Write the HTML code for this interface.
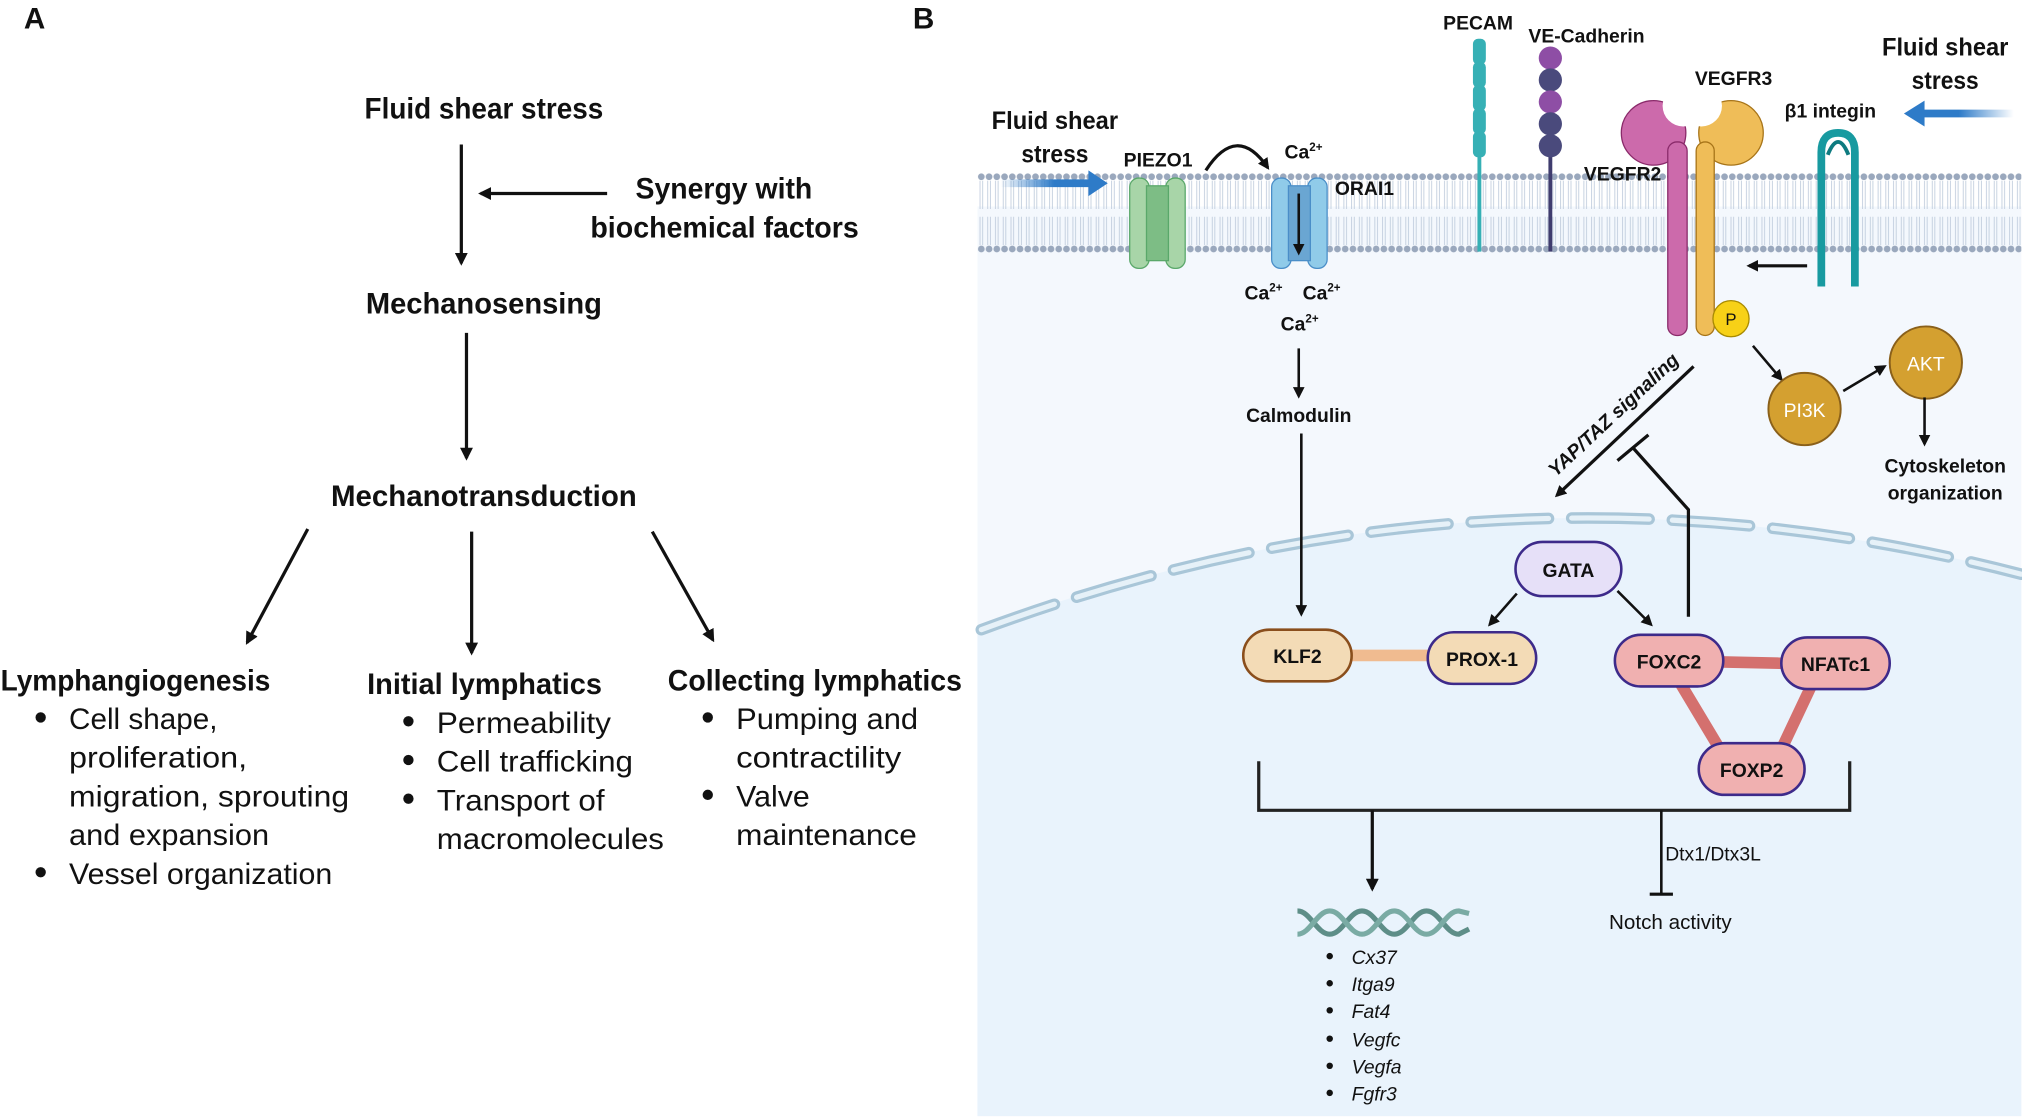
<!DOCTYPE html>
<html><head><meta charset="utf-8"><style>
html,body{margin:0;padding:0;background:#fff;}
svg{display:block;}
text{font-family:"Liberation Sans",sans-serif;fill:#111;}
.h{font-weight:bold;font-size:23px;}
.b{font-size:23px;}
.s{font-weight:bold;font-size:15px;}
.L{font-weight:bold;font-size:19px;}
.g{font-style:italic;font-size:15px;}
</style></head><body>
<svg width="2022" height="1120" viewBox="0 0 1566 868" xmlns="http://www.w3.org/2000/svg">
<defs>
<marker id="ah" markerWidth="10" markerHeight="10" refX="8" refY="5" orient="auto" markerUnits="userSpaceOnUse" viewBox="0 0 10 10"><path d="M0,0 L10,5 L0,10 z" fill="#111"/></marker>
<marker id="ahs" markerWidth="9" markerHeight="9" refX="7" refY="4.5" orient="auto" markerUnits="userSpaceOnUse" viewBox="0 0 9 9"><path d="M0,0 L9,4.5 L0,9 z" fill="#111"/></marker>
<linearGradient id="bl" x1="0" x2="1"><stop offset="0" stop-color="#2e7bc8" stop-opacity="0"/><stop offset="0.5" stop-color="#2e7bc8"/></linearGradient>
<linearGradient id="br" x1="1" x2="0"><stop offset="0" stop-color="#2e7bc8" stop-opacity="0"/><stop offset="0.5" stop-color="#2e7bc8"/></linearGradient>
<pattern id="mem" x="757" y="0" width="6" height="868" patternUnits="userSpaceOnUse">
<circle cx="3" cy="137" r="2.6" fill="#9aa8bd"/><circle cx="3" cy="193" r="2.6" fill="#9aa8bd"/>
<path d="M2,140 L2,162 M4,140 L4,162 M2,168 L2,190 M4,168 L4,190" stroke="#b8c6d8" stroke-width="0.6"/>
</pattern>
</defs>

<!-- Panel A -->
<text x="18" y="22" class="h">A</text>
<text x="282" y="92" class="h" textLength="185" lengthAdjust="spacingAndGlyphs">Fluid shear stress</text>
<line x1="357" y1="112" x2="357" y2="204" stroke="#111" stroke-width="2.5" marker-end="url(#ah)"/>
<line x1="470" y1="150" x2="372" y2="150" stroke="#111" stroke-width="2.5" marker-end="url(#ah)"/>
<text x="492" y="154" class="h" textLength="137" lengthAdjust="spacingAndGlyphs">Synergy with</text>
<text x="457" y="184" class="h" textLength="208" lengthAdjust="spacingAndGlyphs">biochemical factors</text>
<text x="283" y="243" class="h" textLength="183" lengthAdjust="spacingAndGlyphs">Mechanosensing</text>
<line x1="361" y1="258" x2="361" y2="355" stroke="#111" stroke-width="2.5" marker-end="url(#ah)"/>
<text x="256" y="392" class="h" textLength="237" lengthAdjust="spacingAndGlyphs">Mechanotransduction</text>
<line x1="238" y1="410" x2="191" y2="498" stroke="#111" stroke-width="2.5" marker-end="url(#ah)"/>
<line x1="365" y1="412" x2="365" y2="506" stroke="#111" stroke-width="2.5" marker-end="url(#ah)"/>
<line x1="505" y1="412" x2="552" y2="496" stroke="#111" stroke-width="2.5" marker-end="url(#ah)"/>

<text x="0" y="535" class="h" textLength="209" lengthAdjust="spacingAndGlyphs">Lymphangiogenesis</text>
<text x="284" y="538" class="h" textLength="182" lengthAdjust="spacingAndGlyphs">Initial lymphatics</text>
<text x="517" y="535" class="h" textLength="228" lengthAdjust="spacingAndGlyphs">Collecting lymphatics</text>

<g fill="#111"><circle cx="31" cy="556" r="4"/><circle cx="31" cy="676" r="4"/><circle cx="316" cy="559" r="4"/><circle cx="316" cy="589" r="4"/><circle cx="316" cy="619" r="4"/><circle cx="548" cy="556" r="4"/><circle cx="548" cy="616" r="4"/></g>
<text x="53" y="565" class="b" textLength="115" lengthAdjust="spacingAndGlyphs">Cell shape,</text>
<text x="53" y="595" class="b" textLength="138" lengthAdjust="spacingAndGlyphs">proliferation,</text>
<text x="53" y="625" class="b" textLength="217" lengthAdjust="spacingAndGlyphs">migration, sprouting</text>
<text x="53" y="655" class="b" textLength="155" lengthAdjust="spacingAndGlyphs">and expansion</text>
<text x="53" y="685" class="b" textLength="204" lengthAdjust="spacingAndGlyphs">Vessel organization</text>
<text x="338" y="568" class="b" textLength="135" lengthAdjust="spacingAndGlyphs">Permeability</text>
<text x="338" y="598" class="b" textLength="152" lengthAdjust="spacingAndGlyphs">Cell trafficking</text>
<text x="338" y="628" class="b" textLength="130" lengthAdjust="spacingAndGlyphs">Transport of</text>
<text x="338" y="658" class="b" textLength="176" lengthAdjust="spacingAndGlyphs">macromolecules</text>
<text x="570" y="565" class="b" textLength="141" lengthAdjust="spacingAndGlyphs">Pumping and</text>
<text x="570" y="595" class="b" textLength="128" lengthAdjust="spacingAndGlyphs">contractility</text>
<text x="570" y="625" class="b" textLength="57" lengthAdjust="spacingAndGlyphs">Valve</text>
<text x="570" y="655" class="b" textLength="140" lengthAdjust="spacingAndGlyphs">maintenance</text>

<!-- Panel B -->
<text x="707" y="22" class="h">B</text>
<rect x="757" y="160" width="809" height="705" fill="#f4f8fd"/>
<path d="M757,488 Q1160,340 1566,445 L1566,865 L757,865 z" fill="#e9f3fc"/>
<path d="M760,488 Q1160,340 1566,445" fill="none" stroke="#a9c6d8" stroke-width="9" stroke-dasharray="60,18" stroke-linecap="round"/>
<path d="M760,488 Q1160,340 1566,445" fill="none" stroke="#e6f1f8" stroke-width="4" stroke-dasharray="60,18" stroke-linecap="round"/>
<rect x="757" y="132" width="809" height="66" fill="url(#mem)"/>

<!-- left fluid shear -->
<text x="817" y="100" class="L" text-anchor="middle" textLength="98" lengthAdjust="spacingAndGlyphs">Fluid shear</text>
<text x="817" y="126" class="L" text-anchor="middle" textLength="52" lengthAdjust="spacingAndGlyphs">stress</text>
<path d="M775,139 L843,139 L843,132 L858,142 L843,152 L843,145 L775,145 z" fill="url(#bl)"/>
<text x="897" y="129" class="s" text-anchor="middle">PIEZO1</text>
<rect x="875" y="138" width="15" height="70" rx="7" fill="#a8d5a8" stroke="#5aa86a"/>
<rect x="903" y="138" width="15" height="70" rx="7" fill="#a8d5a8" stroke="#5aa86a"/>
<rect x="888" y="144" width="17" height="58" fill="#7dbd85" stroke="#5aa86a"/>
<path d="M934,132 Q958,95 982,130" fill="none" stroke="#111" stroke-width="2.5" marker-end="url(#ahs)"/>
<text x="995" y="123" class="s">Ca<tspan font-size="9" dy="-6">2+</tspan></text>
<rect x="985" y="138" width="15" height="70" rx="7" fill="#90cbe9" stroke="#4a8ec8"/>
<rect x="1013" y="138" width="15" height="70" rx="7" fill="#90cbe9" stroke="#4a8ec8"/>
<rect x="998" y="144" width="17" height="58" fill="#6aa6d2" stroke="#4a8ec8"/>
<line x1="1006" y1="150" x2="1006" y2="196" stroke="#111" stroke-width="2" marker-end="url(#ahs)"/>
<text x="1034" y="151" class="s">ORAI1</text>
<text x="964" y="232" class="s">Ca<tspan font-size="9" dy="-6">2+</tspan></text>
<text x="1009" y="232" class="s">Ca<tspan font-size="9" dy="-6">2+</tspan></text>
<text x="992" y="256" class="s">Ca<tspan font-size="9" dy="-6">2+</tspan></text>
<line x1="1006" y1="270" x2="1006" y2="307" stroke="#111" stroke-width="2" marker-end="url(#ahs)"/>
<text x="1006" y="327" class="s" text-anchor="middle">Calmodulin</text>
<line x1="1008" y1="336" x2="1008" y2="476" stroke="#111" stroke-width="2" marker-end="url(#ahs)"/>

<!-- PECAM -->
<text x="1145" y="23" class="s" text-anchor="middle">PECAM</text>
<line x1="1146" y1="120" x2="1146" y2="195" stroke="#36b0b5" stroke-width="3"/>
<g fill="#36b0b5"><rect x="1141" y="30" width="10" height="20" rx="4"/><rect x="1141" y="48" width="10" height="20" rx="4"/><rect x="1141" y="66" width="10" height="20" rx="4"/><rect x="1141" y="84" width="10" height="20" rx="4"/><rect x="1141" y="102" width="10" height="20" rx="4"/></g>
<text x="1229" y="33" class="s" text-anchor="middle">VE-Cadherin</text>
<line x1="1201" y1="115" x2="1201" y2="195" stroke="#3f3c6e" stroke-width="3"/>
<circle cx="1201" cy="45" r="9" fill="#8e4ea5"/><circle cx="1201" cy="62" r="9" fill="#4a4a7c"/><circle cx="1201" cy="79" r="9" fill="#8e4ea5"/><circle cx="1201" cy="96" r="9" fill="#4a4a7c"/><circle cx="1201" cy="113" r="9" fill="#4a4a7c"/>

<!-- VEGFR2 / VEGFR3 -->
<circle cx="1281" cy="103" r="25" fill="#cc6aab" stroke="#8a2a6a"/>
<circle cx="1304" cy="82" r="16" fill="#fff"/>
<rect x="1292" y="110" width="15" height="150" rx="7" fill="#cc6aab" stroke="#8a2a6a"/>
<circle cx="1341" cy="103" r="25" fill="#efbd58" stroke="#a77418"/>
<circle cx="1318" cy="82" r="16" fill="#fff"/>
<rect x="1314" y="110" width="14" height="150" rx="7" fill="#efbd58" stroke="#a77418"/>
<text x="1257" y="140" class="s" text-anchor="middle">VEGFR2</text>
<text x="1343" y="66" class="s" text-anchor="middle">VEGFR3</text>
<circle cx="1341" cy="247" r="14" fill="#f7d117" stroke="#a88a00"/>
<text x="1341" y="252" font-size="13" text-anchor="middle">P</text>

<!-- integin -->
<text x="1418" y="91" class="s" text-anchor="middle">β1 integin</text>
<path d="M1411,222 L1411,118 Q1411,103 1424,103 Q1437,103 1437,118 L1437,222" fill="none" stroke="#189aa0" stroke-width="6"/>
<path d="M1416,120 Q1424,100 1432,120" fill="none" stroke="#0e7b80" stroke-width="3"/>
<line x1="1400" y1="206" x2="1355" y2="206" stroke="#111" stroke-width="2.5" marker-end="url(#ahs)"/>
<text x="1507" y="43" class="L" text-anchor="middle" textLength="98" lengthAdjust="spacingAndGlyphs">Fluid shear</text>
<text x="1507" y="69" class="L" text-anchor="middle" textLength="52" lengthAdjust="spacingAndGlyphs">stress</text>
<path d="M1560,85 L1491,85 L1491,78 L1475,88 L1491,98 L1491,91 L1560,91 z" fill="url(#br)"/>

<!-- PI3K AKT -->
<line x1="1358" y1="268" x2="1380" y2="294" stroke="#111" stroke-width="2" marker-end="url(#ahs)"/>
<circle cx="1398" cy="317" r="28" fill="#d4a030" stroke="#8a601a" stroke-width="1.5"/>
<text x="1398" y="323" font-size="15" style="fill:#fff" text-anchor="middle">PI3K</text>
<line x1="1428" y1="303" x2="1460" y2="284" stroke="#111" stroke-width="2" marker-end="url(#ahs)"/>
<circle cx="1492" cy="281" r="28" fill="#d4a030" stroke="#8a601a" stroke-width="1.5"/>
<text x="1492" y="287" font-size="15" style="fill:#fff" text-anchor="middle">AKT</text>
<line x1="1491" y1="308" x2="1491" y2="344" stroke="#111" stroke-width="2" marker-end="url(#ahs)"/>
<text x="1507" y="366" class="s" text-anchor="middle">Cytoskeleton</text>
<text x="1507" y="387" class="s" text-anchor="middle">organization</text>

<!-- YAP/TAZ -->
<line x1="1312" y1="284" x2="1206" y2="384" stroke="#111" stroke-width="2.5" marker-end="url(#ahs)"/>
<text transform="translate(1256,328) rotate(-43)" class="s" font-style="italic" text-anchor="middle" dy="-4">YAP/TAZ signaling</text>
<path d="M1308,478 L1308,395 L1265,347" fill="none" stroke="#111" stroke-width="2.5"/>
<line x1="1253" y1="357" x2="1277" y2="337" stroke="#111" stroke-width="2.5"/>

<!-- TFs -->
<line x1="1046" y1="508" x2="1107" y2="508" stroke="#f0bb90" stroke-width="9"/>
<line x1="1334" y1="513" x2="1380" y2="514" stroke="#d4706e" stroke-width="9"/>
<line x1="1302" y1="530" x2="1335" y2="585" stroke="#d4706e" stroke-width="9"/>
<line x1="1403" y1="532" x2="1378" y2="585" stroke="#d4706e" stroke-width="9"/>
<rect x="1174" y="420" width="82" height="42" rx="21" fill="#e6e0f8" stroke="#3d2a8a" stroke-width="2"/>
<text x="1215" y="447" class="s" text-anchor="middle">GATA</text>
<line x1="1175" y1="460" x2="1154" y2="484" stroke="#111" stroke-width="2" marker-end="url(#ahs)"/>
<line x1="1253" y1="458" x2="1279" y2="484" stroke="#111" stroke-width="2" marker-end="url(#ahs)"/>
<rect x="963" y="488" width="84" height="40" rx="20" fill="#f3dbb6" stroke="#8a4e1c" stroke-width="2"/>
<text x="1005" y="514" class="s" text-anchor="middle">KLF2</text>
<rect x="1106" y="490" width="84" height="40" rx="20" fill="#f3dbb6" stroke="#3d2a8a" stroke-width="2"/>
<text x="1148" y="516" class="s" text-anchor="middle">PROX-1</text>
<rect x="1251" y="492" width="84" height="40" rx="20" fill="#f0b0b0" stroke="#3d2a8a" stroke-width="2"/>
<text x="1293" y="518" class="s" text-anchor="middle">FOXC2</text>
<rect x="1380" y="494" width="84" height="40" rx="20" fill="#f0b0b0" stroke="#3d2a8a" stroke-width="2"/>
<text x="1422" y="520" class="s" text-anchor="middle">NFATc1</text>
<rect x="1316" y="576" width="82" height="40" rx="20" fill="#f0b0b0" stroke="#3d2a8a" stroke-width="2"/>
<text x="1357" y="602" class="s" text-anchor="middle">FOXP2</text>

<!-- bracket -->
<path d="M975,590 L975,628 L1433,628 L1433,590" fill="none" stroke="#222" stroke-width="2.5"/>
<line x1="1063" y1="628" x2="1063" y2="689" stroke="#111" stroke-width="2.5" marker-end="url(#ah)"/>
<line x1="1287" y1="628" x2="1287" y2="693" stroke="#111" stroke-width="2"/>
<line x1="1278" y1="693" x2="1296" y2="693" stroke="#111" stroke-width="2.5"/>
<text x="1290" y="667" font-size="15">Dtx1/Dtx3L</text>
<text x="1294" y="720" font-size="16" text-anchor="middle">Notch activity</text>

<!-- DNA -->
<path d="M1005,706 C1015,706 1020,724 1030,724 C1040,724 1045,706 1055,706 C1065,706 1070,724 1080,724 C1090,724 1095,706 1105,706 C1115,706 1120,724 1130,724 L1138,720" fill="none" stroke="#5e8e88" stroke-width="4"/>
<path d="M1005,724 C1015,724 1020,706 1030,706 C1040,706 1045,724 1055,724 C1065,724 1070,706 1080,706 C1090,706 1095,724 1105,724 C1115,724 1120,706 1130,706 L1138,708" fill="none" stroke="#7aaba4" stroke-width="4"/>
<g fill="#111"><circle cx="1030" cy="741" r="2.5"/><circle cx="1030" cy="762" r="2.5"/><circle cx="1030" cy="783" r="2.5"/><circle cx="1030" cy="805" r="2.5"/><circle cx="1030" cy="826" r="2.5"/><circle cx="1030" cy="847" r="2.5"/></g>
<text x="1047" y="747" class="g">Cx37</text>
<text x="1047" y="768" class="g">Itga9</text>
<text x="1047" y="789" class="g">Fat4</text>
<text x="1047" y="811" class="g">Vegfc</text>
<text x="1047" y="832" class="g">Vegfa</text>
<text x="1047" y="853" class="g">Fgfr3</text>
</svg>
</body></html>
